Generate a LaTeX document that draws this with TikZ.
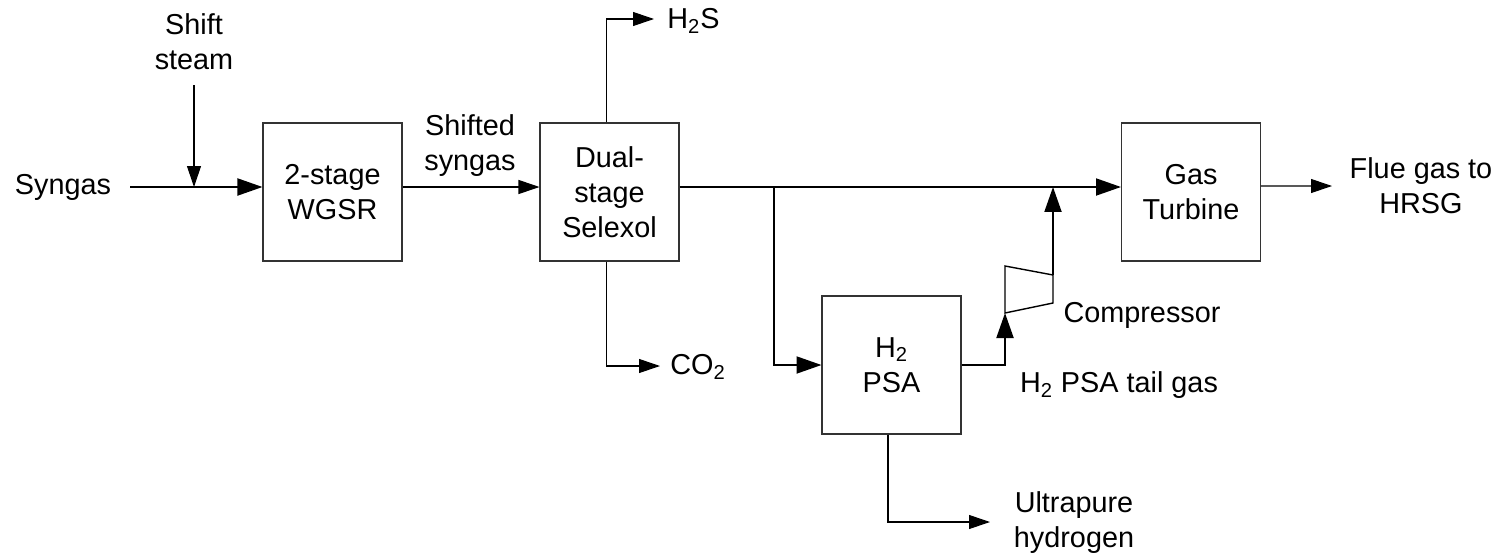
\documentclass[tikz,border=0pt]{standalone}
\usepackage{fontspec}
\setmainfont{Liberation Sans}
\usetikzlibrary{arrows.meta}
\definecolor{unitgray}{HTML}{333333}

\begin{document}
\begin{tikzpicture}[
    x=0.02cm, y=-0.02cm,
    font=\fontsize{16.4}{19.9}\selectfont,
    unitbox/.style={rectangle, draw=unitgray, line width=0.6pt, minimum width=2.78cm, minimum height=2.76cm, align=center, inner sep=0pt},
    tag/.style={align=center, inner sep=0pt},
    flow/.style={-{Triangle[length=0.42cm, width=0.28cm]}, line width=0.6pt},
    mainflow/.style={-{Triangle[length=0.5cm, width=0.34cm]}, line width=1.1pt}
]
\useasboundingbox (0,0) rectangle (1501,558);

% process units
\node[unitbox] (wgsr) at (332.5,192) {2-stage\\WGSR};
\node[unitbox] (selexol) at (609.5,192) {Dual-\\stage\\Selexol};
\node[unitbox] (gt) at (1191,192) {Gas\\Turbine};
\node[unitbox] (psa) at (891.5,365) {H\textsubscript{2}\\PSA};

% stream labels
\node[tag] (syngas) at (63,187) {Syngas};
\node[tag] (steam) at (194,42) {Shift\\steam};
\node[tag] (shifted) at (470,146) {Shifted\\syngas};
\node[tag, anchor=west] (h2s) at (667,21) {H\textsubscript{2}S};
\node[tag, anchor=west] (co2) at (670,367) {CO\textsubscript{2}};
\node[tag] (tailgas) at (1119,385) {H\textsubscript{2} PSA tail gas};
\node[tag] (cmplabel) at (1142,315) {Compressor};
\node[tag] (pure) at (1074,523) {Ultrapure\\hydrogen};
\node[tag] (flue) at (1421,186) {Flue gas to\\HRSG};

% stream ends and junctions
\coordinate (sgin) at (130,187);
\coordinate (sttop) at (194,85);
\coordinate (stin) at (194,187);
\coordinate (split) at (774,187);
\coordinate (mix) at (1053,187);
\coordinate (h2sout) at (654,19);
\coordinate (co2out) at (660,366);
\coordinate (pureout) at (990,522);
\coordinate (flueout) at (1332,186);

% compressor
\coordinate (cbl) at (1005,313);
\coordinate (ctl) at (1005,266);
\coordinate (ctr) at (1053,275);
\coordinate (cbr) at (1053,303);
\draw[line width=0.8pt] (ctl) -- (ctr) -- (cbr) -- (cbl) -- cycle;

\draw[mainflow] (sgin) -- ([yshift=0.1cm]wgsr.west);
\draw[flow] (sttop) -- (stin);
\draw[flow] ([yshift=0.1cm]wgsr.east) -- ([yshift=0.1cm]selexol.west);
\draw[mainflow] ([yshift=0.1cm]selexol.east) -- ([yshift=0.1cm]gt.west);
\draw[mainflow] (split) |- (psa.west);
\draw[mainflow] (psa.east) -| (cbl);
\draw[mainflow] (ctr) -- (mix);
\draw[flow] ([xshift=-0.06cm]selexol.north) |- (h2sout);
\draw[flow] ([xshift=-0.06cm]selexol.south) |- (co2out);
\draw[flow] ([xshift=-0.07cm]psa.south) |- (pureout);
\draw[flow] ([yshift=0.12cm]gt.east) -- (flueout);
\end{tikzpicture}
\end{document}
